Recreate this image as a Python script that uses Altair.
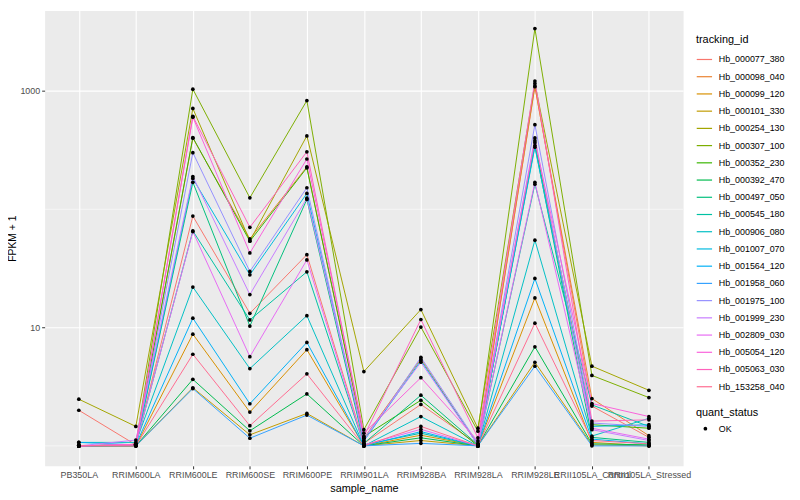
import altair as alt
import pandas as pd

samples = ["PB350LA", "RRIM600LA", "RRIM600LE", "RRIM600SE", "RRIM600PE",
           "RRIM901LA", "RRIM928BA", "RRIM928LA", "RRIM928LE",
           "RRII105LA_Control", "RRII105LA_Stressed"]

tracking_ids = ["Hb_000077_380", "Hb_000098_040", "Hb_000099_120", "Hb_000101_330",
                "Hb_000254_130", "Hb_000307_100", "Hb_000352_230", "Hb_000392_470",
                "Hb_000497_050", "Hb_000545_180", "Hb_000906_080", "Hb_001007_070",
                "Hb_001564_120", "Hb_001958_060", "Hb_001975_100", "Hb_001999_230",
                "Hb_002809_030", "Hb_005054_120", "Hb_005063_030", "Hb_153258_040"]

colors = ["#F8766D", "#EA8331", "#D89000", "#C09B00", "#A3A500", "#7CAE00",
          "#39B600", "#00BB4E", "#00BF7D", "#00C1A3", "#00BFC4", "#00BAE0",
          "#00B0F6", "#35A2FF", "#9590FF", "#C77CFF", "#E76BF3", "#FA62DB",
          "#FF62BC", "#FF6C91"]

# FPKM + 1 per sample (same order as `samples`)
hb_000077_380 = [2.0, 1.02, 87.5, 13.2, 41.3, 1.05, 2.24, 1.03, 1102, 2.17, 1.18]
hb_000098_040 = [1.0, 1.01, 399, 56.2, 228, 1.16, 5.43, 1.02, 1085, 2.51, 1.22]
hb_000099_120 = [1.0, 1.0, 8.8, 1.93, 6.5, 1.0, 1.23, 1.0, 17.8, 1.07, 1.0]
hb_000101_330 = [1.0, 1.0, 3.10, 1.24, 1.88, 1.0, 1.11, 1.0, 5.09, 1.02, 1.0]
hb_000254_130 = [2.48, 1.46, 711, 54.1, 417, 4.25, 14.2, 1.41, 1158, 4.72, 2.95]
hb_000307_100 = [1.0, 1.03, 1035, 125, 829, 1.37, 10.1, 1.33, 3365, 3.94, 2.56]
hb_000352_230 = [1.0, 1.02, 404, 53.7, 224, 1.2, 2.43, 1.0, 365, 1.51, 1.41]
hb_000392_470 = [1.0, 1.0, 3.65, 1.34, 2.75, 1.0, 1.17, 1.0, 6.88, 1.04, 1.02]
hb_000497_050 = [1.0, 1.01, 169, 10.3, 121, 1.05, 2.68, 1.02, 345, 1.18, 1.07]
hb_000545_180 = [1.0, 1.02, 65.6, 11.6, 29.6, 1.02, 1.28, 1.0, 163, 2.22, 1.46]
hb_000906_080 = [1.07, 1.07, 22.0, 4.5, 12.6, 1.0, 1.77, 1.0, 54.8, 1.21, 1.71]
hb_001007_070 = [1.0, 1.03, 182, 27.9, 136, 1.1, 5.27, 1.02, 335, 1.46, 1.51]
hb_001564_120 = [1.07, 1.02, 12.0, 2.27, 7.49, 1.0, 1.32, 1.0, 26.0, 1.14, 1.04]
hb_001958_060 = [1.0, 1.0, 3.05, 1.16, 1.82, 1.0, 1.05, 1.0, 4.72, 1.0, 1.0]
hb_001975_100 = [1.0, 1.02, 301, 29.8, 152, 1.1, 5.6, 1.05, 519, 1.56, 1.46]
hb_001999_230 = [1.0, 1.12, 189, 19.0, 124, 1.16, 5.09, 1.02, 401, 1.37, 1.11]
hb_002809_030 = [1.0, 1.03, 64.8, 5.67, 37.3, 1.02, 1.38, 1.0, 169, 1.41, 1.14]
hb_005054_120 = [1.0, 1.03, 600, 42.7, 266, 1.28, 3.77, 1.1, 380, 2.28, 1.77]
hb_005063_030 = [1.0, 1.02, 610, 70.4, 306, 1.2, 11.7, 1.17, 1213, 1.62, 1.66]
hb_153258_040 = [1.0, 1.0, 5.95, 1.48, 4.06, 1.0, 1.46, 1.0, 10.9, 1.11, 1.04]

series = [hb_000077_380, hb_000098_040, hb_000099_120, hb_000101_330, hb_000254_130,
          hb_000307_100, hb_000352_230, hb_000392_470, hb_000497_050, hb_000545_180,
          hb_000906_080, hb_001007_070, hb_001564_120, hb_001958_060, hb_001975_100,
          hb_001999_230, hb_002809_030, hb_005054_120, hb_005063_030, hb_153258_040]

major_breaks = [10, 1000]
minor_breaks = [1, 100]

rows = []
for tid, vals in zip(tracking_ids, series):
    for s, v in zip(samples, vals):
        rows.append({"tracking_id": tid, "sample_name": s, "fpkm": v, "quant_status": "OK"})
df = pd.DataFrame(rows)
minor_df = pd.DataFrame({"fpkm": minor_breaks})

FONT = "Liberation Sans"

x_enc = alt.X("sample_name:N", sort=samples,
              scale=alt.Scale(type="point", padding=0.6),
              axis=alt.Axis(title="sample_name", labelAngle=0, labelOverlap=False,
                            labelBound=False, labelFlush=False,
                            labelFontSize=9, labelColor="#4D4D4D", labelPadding=2,
                            tickSize=3, tickColor="#333333", domain=False,
                            grid=True, gridColor="white", gridWidth=1.1,
                            titleFontSize=11, titleFontWeight="normal",
                            titleColor="black", titlePadding=3))
y_enc = alt.Y("fpkm:Q",
              scale=alt.Scale(type="log", domain=[0.678, 4786], nice=False),
              axis=alt.Axis(title="FPKM + 1", values=major_breaks, format="d",
                            labelFontSize=9, labelColor="#4D4D4D", labelPadding=2,
                            tickSize=3, tickColor="#333333", domain=False,
                            grid=True, gridColor="white", gridWidth=1.1,
                            titleFontSize=10.5, titleFontWeight="normal",
                            titleColor="black", titlePadding=2))

minor = alt.Chart(minor_df).mark_rule(color="white", strokeWidth=0.55).encode(y=y_enc)

lines = alt.Chart(df).mark_line(strokeWidth=1.0).encode(
    x=x_enc, y=y_enc,
    color=alt.Color("tracking_id:N",
                    scale=alt.Scale(domain=tracking_ids, range=colors),
                    legend=alt.Legend(title="tracking_id", orient="none",
                                      legendX=658, legendY=24,
                                      symbolType="stroke", symbolSize=240,
                                      symbolStrokeWidth=1.2, rowPadding=3.4,
                                      labelOffset=6,
                                      labelFontSize=9, labelColor="black",
                                      titleFontSize=11, titleFontWeight="normal",
                                      titleColor="black", titlePadding=6)),
    detail="tracking_id:N",
)

points = alt.Chart(df).mark_point(filled=True, size=14, color="black", opacity=1).encode(
    x=x_enc, y=y_enc,
    shape=alt.Shape("quant_status:N",
                    scale=alt.Scale(domain=["OK"], range=["circle"]),
                    legend=alt.Legend(title="quant_status", orient="none",
                                      legendX=658, legendY=401,
                                      symbolSize=14, symbolFillColor="black",
                                      symbolStrokeColor="black", symbolOffset=5,
                                      labelOffset=9,
                                      labelFontSize=9, labelColor="black",
                                      titleFontSize=11, titleFontWeight="normal",
                                      titleColor="black", titlePadding=6)),
)

chart = alt.layer(minor, lines, points).properties(
    width=645, height=460,
    autosize=alt.AutoSizeParams(type="none"),
    padding={"left": 37, "top": 0, "right": 110, "bottom": 32},
).configure(font=FONT).configure_view(fill="#EBEBEB", strokeOpacity=0)

chart.save("out.html", embed_options={"renderer": "svg", "actions": False})
